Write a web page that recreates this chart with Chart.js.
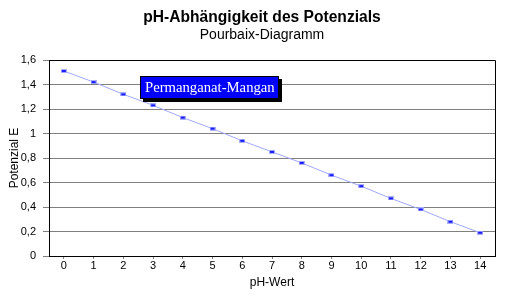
<!DOCTYPE html>
<html lang="de">
<head>
  <meta charset="UTF-8" />
  <title>pH-Abhängigkeit des Potenzials</title>
  <script src="https://cdn.jsdelivr.net/npm/chart.js"></script>
  <style>
    html, body { margin: 0; padding: 0; background: #fff; }
    #wrap { width: 526px; height: 298px; }
  </style>
</head>
<body>
  <div id="wrap"><canvas id="pourbaix"></canvas></div>

<script>
const phWerte = ['0', '1', '2', '3', '4', '5', '6', '7', '8', '9', '10', '11', '12', '13', '14'];
const potenzial = [1.51, 1.42, 1.32, 1.23, 1.13, 1.04, 0.94, 0.85, 0.76, 0.66, 0.57, 0.47, 0.38, 0.28, 0.19];
const yTicks = [0, 0.1, 0.2, 0.3, 0.4, 0.5, 0.6, 0.7, 0.8, 0.9, 1.0, 1.1, 1.2, 1.3, 1.4, 1.5, 1.6];
const beschriftung = { text: 'Permanganat-Mangan', x: 2.55, y: 1.47 };

const schrift = 'Arial, "Liberation Sans", sans-serif';

// kleiner Marker: hellblauer Rand, blauer Kern
const marker = document.createElement('canvas');
marker.width = 6; marker.height = 4;
const mctx = marker.getContext('2d');
mctx.fillStyle = '#a8aef8';
mctx.fillRect(0, 0, 6, 4);
mctx.fillStyle = '#1a1aff';
mctx.fillRect(1, 1, 4, 2);

// Rahmen oben/rechts und die Beschriftungsbox
const rahmen = {
  id: 'rahmen',
  afterDraw(chart) {
    const { ctx, chartArea: a, scales } = chart;
    ctx.save();
    ctx.strokeStyle = '#000';
    ctx.lineWidth = 1;
    ctx.beginPath();
    ctx.moveTo(a.left, a.top + 0.5);
    ctx.lineTo(a.right + 0.5, a.top + 0.5);
    ctx.lineTo(a.right + 0.5, a.bottom);
    ctx.stroke();

    const bx = Math.round(scales.x.getPixelForValue(beschriftung.x));
    const by = Math.round(scales.y.getPixelForValue(beschriftung.y));
    ctx.font = '14.7px "Liberation Serif", "Times New Roman", serif';
    const w = Math.round(ctx.measureText(beschriftung.text).width) + 9;
    const h = 23;
    ctx.fillStyle = '#000';
    ctx.fillRect(bx + 3, by + 3, w, h);
    ctx.fillStyle = '#0000ff';
    ctx.fillRect(bx, by, w, h);
    ctx.strokeStyle = '#000';
    ctx.strokeRect(bx + 0.5, by + 0.5, w - 1, h - 1);
    ctx.fillStyle = '#fff';
    ctx.textBaseline = 'middle';
    ctx.fillText(beschriftung.text, bx + 5, by + h / 2 + 1);
    ctx.restore();
  }
};

new Chart(document.getElementById('pourbaix'), {
  type: 'line',
  data: {
    labels: phWerte,
    datasets: [{
      data: potenzial,
      borderColor: '#a0a8ff',
      borderWidth: 1,
      pointStyle: marker,
      pointRadius: 3,
      pointHoverRadius: 3,
      tension: 0
    }]
  },
  plugins: [rahmen],
  options: {
    responsive: true,
    maintainAspectRatio: false,
    animation: false,
    events: [],
    layout: { padding: { left: 7, right: 9, top: 0, bottom: 8 } },
    plugins: {
      legend: { display: false },
      tooltip: { enabled: false },
      title: {
        display: true,
        text: 'pH-Abhängigkeit des Potenzials',
        color: '#000',
        font: { family: schrift, size: 15.6, weight: 'bold' },
        padding: { top: 8, bottom: 0 }
      },
      subtitle: {
        display: true,
        text: 'Pourbaix-Diagramm',
        color: '#000',
        font: { family: schrift, size: 14 },
        padding: { top: 0, bottom: 16.5 }
      }
    },
    scales: {
      x: {
        type: 'category',
        offset: true,
        border: { color: '#000', width: 1 },
        grid: { offset: false, drawOnChartArea: false, tickLength: 3, color: '#808080' },
        ticks: {
          color: '#000',
          padding: 0,
          maxRotation: 0,
          autoSkip: false,
          font: { family: schrift, size: 11 }
        },
        title: {
          display: true,
          text: 'pH-Wert',
          color: '#000',
          padding: { top: 1, bottom: 0 },
          font: { family: schrift, size: 12 }
        },
        afterFit(scale) { scale.height = 34; }
      },
      y: {
        min: 0,
        max: 1.6,
        border: { color: '#000', width: 1 },
        afterBuildTicks(scale) { scale.ticks = yTicks.map(v => ({ value: v })); },
        grid: {
          color: ctx => (ctx.index % 2 === 0 ? '#808080' : 'rgba(0,0,0,0)'),
          tickColor: ctx => (ctx.index % 2 === 0 ? '#808080' : '#000'),
          tickLength: 6
        },
        ticks: {
          color: '#000',
          padding: 7,
          font: { family: schrift, size: 11 },
          callback: (v, i) => (i % 2 === 0 ? String(Math.round(v * 10) / 10).replace('.', ',') : '')
        },
        title: {
          display: true,
          text: 'Potenzial E',
          color: '#000',
          padding: { top: 0, bottom: 0 },
          font: { family: schrift, size: 12 }
        },
        afterFit(scale) { scale.width = 42; }
      },
      rechts: {
        type: 'linear',
        position: 'right',
        display: true,
        grid: { display: false },
        border: { display: false },
        ticks: { display: false },
        afterFit(scale) { scale.width = 22; }
      }
    }
  }
});
</script>
</body>
</html>
